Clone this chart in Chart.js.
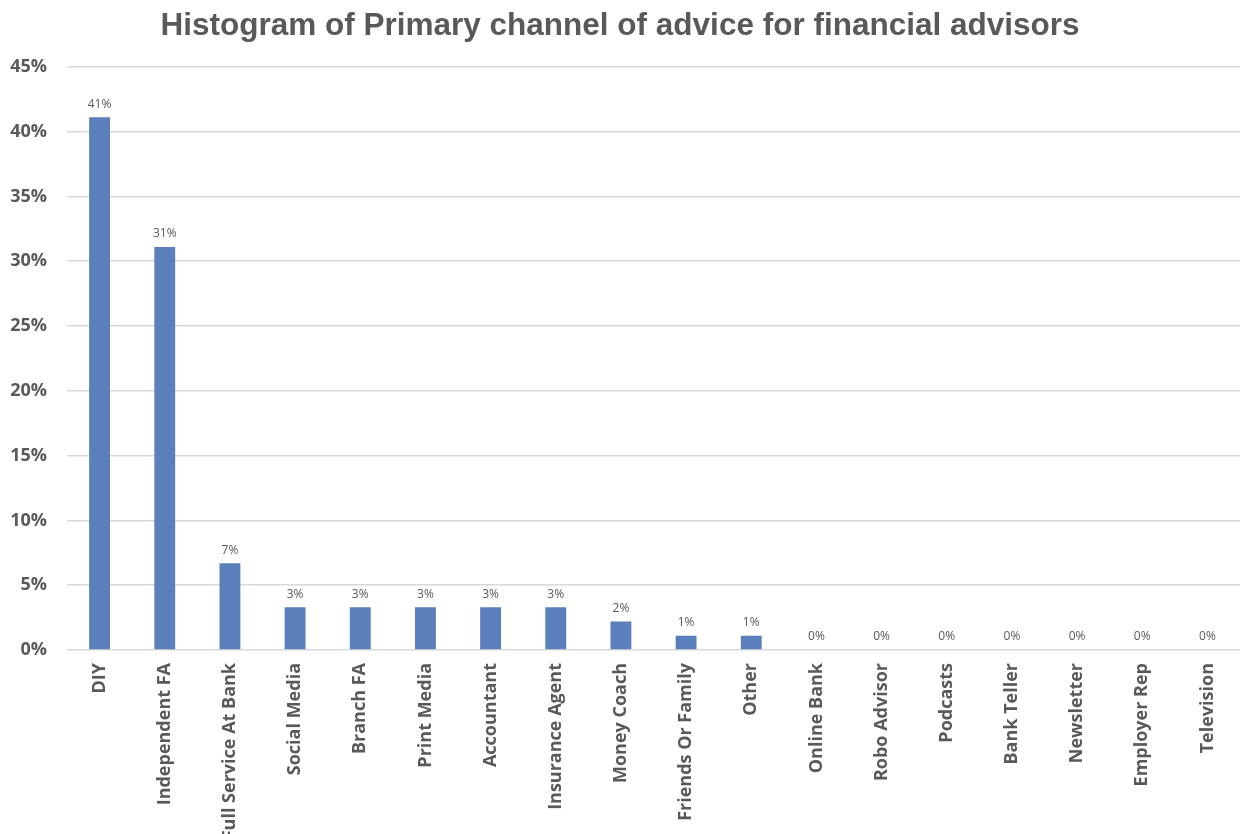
<!DOCTYPE html>
<html>
<head>
<meta charset="utf-8">
<script src="https://cdn.jsdelivr.net/npm/chart.js@4.4.1/dist/chart.umd.min.js"></script>
<style>
  html, body { margin: 0; padding: 0; background: #fff; }
  #wrap { width: 1240px; height: 834px; position: relative; }
</style>
</head>
<body>
<div id="wrap"><canvas id="histChart" width="1240" height="834"></canvas></div>
<script>
const channels = ['DIY', 'Independent FA', 'Full Service At Bank', 'Social Media', 'Branch FA',
  'Print Media', 'Accountant', 'Insurance Agent', 'Money Coach', 'Friends Or Family', 'Other',
  'Online Bank', 'Robo Advisor', 'Podcasts', 'Bank Teller', 'Newsletter', 'Employer Rep', 'Television'];
const shares = [41.1, 31.1, 6.7, 3.3, 3.3, 3.3, 3.3, 3.3, 2.2, 1.1, 1.1, 0, 0, 0, 0, 0, 0, 0];
const yTicks = [0, 5, 10, 15, 20, 25, 30, 35, 40, 45];

const grey = '#595959';

// value labels above each bar
const barLabels = {
  id: 'barLabels',
  afterDatasetsDraw(chart) {
    const ctx = chart.ctx;
    const meta = chart.getDatasetMeta(0);
    ctx.save();
    ctx.font = '12px "Open Sans"';
    ctx.fillStyle = grey;
    ctx.textAlign = 'center';
    ctx.textBaseline = 'bottom';
    meta.data.forEach((bar, i) => {
      ctx.fillText(Math.round(shares[i]) + '%', bar.x, bar.y - 7);
    });
    ctx.restore();
  }
};

const ctx = document.getElementById('histChart').getContext('2d');
new Chart(ctx, {
  type: 'bar',
  data: {
    labels: channels,
    datasets: [{
      data: shares,
      backgroundColor: '#5a7fba',
      borderWidth: 0,
      barPercentage: 0.32,
      categoryPercentage: 1
    }]
  },
  options: {
    responsive: false,
    animation: false,
    layout: { padding: { top: 3, right: 0, left: 0, bottom: 0 } },
    plugins: {
      legend: { display: false },
      tooltip: { enabled: false },
      title: {
        display: true,
        text: 'Histogram of Primary channel of advice for financial advisors',
        color: grey,
        font: { family: '"Liberation Sans", Arial, sans-serif', size: 31.5, weight: 'bold' },
        padding: { top: 4, bottom: 22 }
      }
    },
    scales: {
      x: {
        grid: { display: false },
        border: { display: false },
        ticks: {
          autoSkip: false,
          minRotation: 90,
          maxRotation: 90,
          padding: 5,
          color: grey,
          font: { family: '"Open Sans"', size: 18, weight: 'bold' }
        },
        afterFit(scale) { scale.height = 184; }
      },
      y: {
        min: 0,
        max: 45,
        afterBuildTicks(scale) { scale.ticks = yTicks.map(v => ({ value: v })); },
        grid: { color: '#d9d9d9', lineWidth: 1.5, drawTicks: false },
        border: { display: false },
        ticks: {
          padding: 20,
          color: grey,
          font: { family: '"Open Sans"', size: 18, weight: 'bold' },
          callback: v => v + '%'
        },
        afterFit(scale) { scale.width = 67; }
      }
    }
  },
  plugins: [barLabels]
});
</script>
</body>
</html>
